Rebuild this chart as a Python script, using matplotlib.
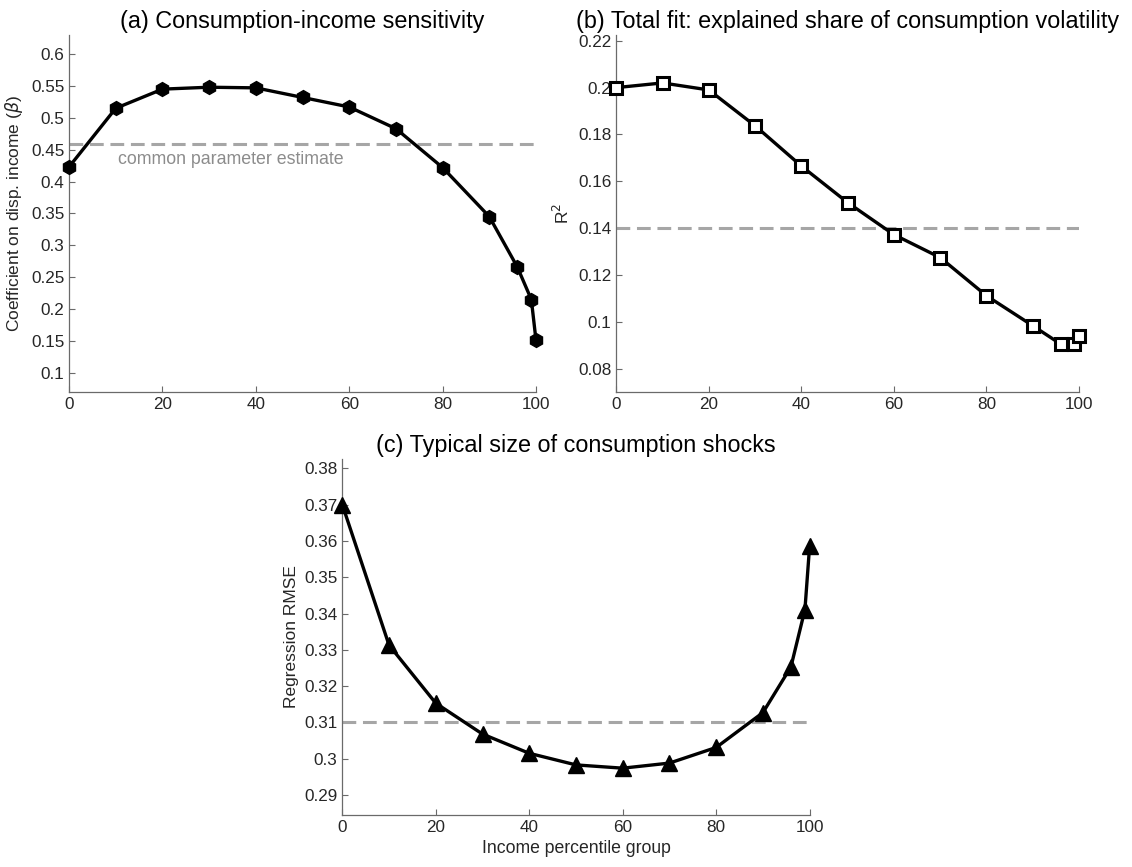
import matplotlib
matplotlib.use("Agg")
import matplotlib.pyplot as plt
from matplotlib.ticker import FuncFormatter

plt.rcParams['font.family'] = ['Liberation Sans', 'DejaVu Sans']
plt.rcParams['mathtext.fontset'] = 'dejavusans'

# income percentile groups
pct = [0, 10, 20, 30, 40, 50, 60, 70, 80, 90, 96, 99, 100]

# (a) coefficient on disposable income
beta = [0.423, 0.515, 0.545, 0.548, 0.547, 0.532, 0.517, 0.483, 0.422,
        0.345, 0.266, 0.215, 0.151]
beta_common = 0.459

# (b) R squared
r2 = [0.200, 0.202, 0.199, 0.1837, 0.1665, 0.1509, 0.1372, 0.1274, 0.1111,
      0.0983, 0.0905, 0.0905, 0.094]
r2_common = 0.140

# (c) regression RMSE
rmse = [0.370, 0.3313, 0.3153, 0.3068, 0.3015, 0.2983, 0.2974, 0.2988,
        0.3031, 0.3127, 0.3253, 0.3411, 0.3586]
rmse_common = 0.310

txt = '#262626'
axc = '#6a6a6a'
dash_col = '#a6a6a6'

fig = plt.figure(figsize=(11.32, 8.67), dpi=100)
ax_a = fig.add_axes([0.0610, 0.5479, 0.4125, 0.4118])
ax_b = fig.add_axes([0.5444, 0.5479, 0.4088, 0.4118])
ax_c = fig.add_axes([0.3024, 0.0600, 0.4128, 0.4106])

fmt = FuncFormatter(lambda v, p: ('%g' % round(v, 4)))


def style(ax):
    for s in ['top', 'right']:
        ax.spines[s].set_visible(False)
    for s in ['left', 'bottom']:
        ax.spines[s].set_color(axc)
        ax.spines[s].set_linewidth(0.9)
    ax.tick_params(direction='in', length=4, width=0.8, colors=axc,
                   labelcolor=txt, labelsize=12.3)
    ax.set_xlim(0, 100)
    ax.set_xticks([0, 20, 40, 60, 80, 100])
    ax.yaxis.set_major_formatter(fmt)


# panel a
ax_a.plot([0, 100], [beta_common] * 2, color=dash_col, lw=2.2, dashes=(4.5, 2.2))
ax_a.plot(pct, beta, color='black', lw=2.4, marker='h', ms=10, mfc='black', mec='black',
          clip_on=False, zorder=3)
ax_a.text(10.5, 0.435, 'common parameter estimate', color='#8c8c8c', fontsize=12.8,
          va='center', ha='left')
style(ax_a)
ax_a.set_ylim(0.07, 0.63)
ax_a.set_yticks([0.1, 0.15, 0.2, 0.25, 0.3, 0.35, 0.4, 0.45, 0.5, 0.55, 0.6])
ax_a.set_ylabel(r'Coefficient on disp. income ($\beta$)', fontsize=12.5, color=txt,
                labelpad=4)
ax_a.set_title('(a) Consumption-income sensitivity', fontsize=16.8, color='black', pad=5)

# panel b
ax_b.plot([0, 100], [r2_common] * 2, color=dash_col, lw=2.2, dashes=(4.5, 2.2))
ax_b.plot(pct, r2, color='black', lw=2.4, marker='s', ms=8, mfc='white', mec='black',
          mew=2.2, clip_on=False, zorder=3)
style(ax_b)
ax_b.set_ylim(0.07, 0.2225)
ax_b.set_yticks([0.08, 0.1, 0.12, 0.14, 0.16, 0.18, 0.2, 0.22])
ax_b.set_ylabel(r'R$^2$', fontsize=12.5, color=txt, labelpad=4)
ax_b.set_title('(b) Total fit: explained share of consumption volatility', fontsize=16.8,
               color='black', pad=5)

# panel c
ax_c.plot([0, 100], [rmse_common] * 2, color=dash_col, lw=2.2, dashes=(4.5, 2.2))
ax_c.plot(pct, rmse, color='black', lw=2.4, marker='^', ms=11, mfc='black', mec='black',
          clip_on=False, zorder=3)
style(ax_c)
ax_c.set_ylim(0.2845, 0.3826)
ax_c.set_yticks([0.29, 0.3, 0.31, 0.32, 0.33, 0.34, 0.35, 0.36, 0.37, 0.38])
ax_c.set_ylabel('Regression RMSE', fontsize=12.5, color=txt, labelpad=4)
ax_c.set_xlabel('Income percentile group', fontsize=12.7, color=txt, labelpad=4)
ax_c.set_title('(c) Typical size of consumption shocks', fontsize=16.8, color='black', pad=5)

fig.savefig('out.png', dpi=100)
